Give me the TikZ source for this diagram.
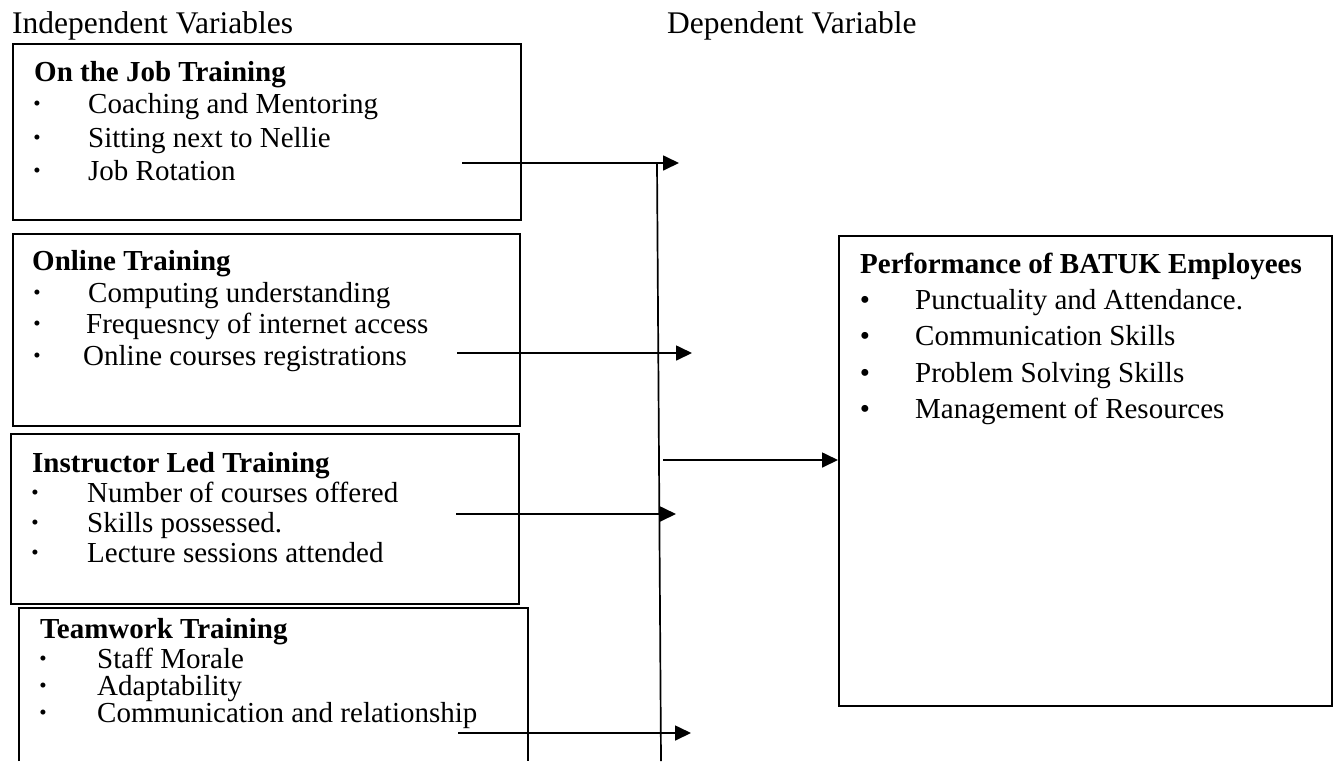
\documentclass[tikz,border=0pt]{standalone}
\usepackage{fontspec}
\setmainfont{Liberation Serif}
\usetikzlibrary{arrows.meta}
\begin{document}
\begin{tikzpicture}[x=1pt,y=-1pt,
  txt/.style={anchor=base west,inner sep=0pt,font=\fontsize{29}{34}\selectfont},
  hdr/.style={anchor=base west,inner sep=0pt,font=\fontsize{31.5}{36}\selectfont},
  ttl/.style={anchor=base west,inner sep=0pt,font=\fontsize{29}{34}\selectfont\bfseries},
  sbul/.style={anchor=base,inner sep=0pt,font=\fontsize{21}{24}\selectfont},
  lbul/.style={anchor=base,inner sep=0pt,font=\fontsize{29}{34}\selectfont},
  frame/.style={draw,line width=1.7pt,anchor=north west,inner sep=0pt},
  conn/.style={line width=1.7pt},
  arr/.style={conn,-{Triangle[length=16pt,width=15pt]}}]
\useasboundingbox (0,0) rectangle (1335,761);

% headers
\node[hdr] (hind) at (12,33) {Independent Variables};
\node[hdr] (hdep) at (667,33) {Dependent Variable};

% box 1
\node[frame,minimum width=508pt,minimum height=176pt] (b1) at (12,43) {};
\node[ttl] (b1t) at (34,81) {On the Job Training};
\node[sbul] (b1b1) at (37,110) {•};
\node[sbul] (b1b2) at (37,144) {•};
\node[sbul] (b1b3) at (37,177) {•};
\node[txt] (b1i1) at (88,113) {Coaching and Mentoring};
\node[txt] (b1i2) at (88,147) {Sitting next to Nellie};
\node[txt] (b1i3) at (88,180) {Job Rotation};

% box 2
\node[frame,minimum width=507pt,minimum height=192pt] (b2) at (12,233) {};
\node[ttl] (b2t) at (32,270) {Online Training};
\node[sbul] (b2b1) at (37,299) {•};
\node[sbul] (b2b2) at (37,330) {•};
\node[sbul] (b2b3) at (37,362) {•};
\node[txt] (b2i1) at (88,302) {Computing understanding};
\node[txt] (b2i2) at (86,333) {Frequesncy of internet access};
\node[txt] (b2i3) at (83,365) {Online courses registrations};

% box 3
\node[frame,minimum width=508pt,minimum height=170pt] (b3) at (10,433) {};
\node[ttl] (b3t) at (32,472) {Instructor Led Training};
\node[sbul] (b3b1) at (35,499) {•};
\node[sbul] (b3b2) at (35,529) {•};
\node[sbul] (b3b3) at (35,559) {•};
\node[txt] (b3i1) at (87,502) {Number of courses offered};
\node[txt] (b3i2) at (87,532) {Skills possessed.};
\node[txt] (b3i3) at (87,562) {Lecture sessions attended};

% box 4 (open at the bottom)
\coordinate (b4bl) at (19,761);
\coordinate (b4tr) at (528,608);
\coordinate (b4br) at (528,761);
\draw[conn] (b4bl) |- (b4tr) -- (b4br);
\node[ttl] (b4t) at (40,638) {Teamwork Training};
\node[sbul] (b4b1) at (43,665) {•};
\node[sbul] (b4b2) at (43,692) {•};
\node[sbul] (b4b3) at (43,719) {•};
\node[txt] (b4i1) at (97,668) {Staff Morale};
\node[txt] (b4i2) at (97,695) {Adaptability};
\node[txt] (b4i3) at (97,722) {Communication and relationship};

% right box
\node[frame,minimum width=493pt,minimum height=470pt] (rb) at (838,235) {};
\node[ttl] (rbt) at (860,273) {Performance of BATUK Employees};
\node[lbul] (rbb1) at (865,309) {•};
\node[lbul] (rbb2) at (865,345) {•};
\node[lbul] (rbb3) at (865,382) {•};
\node[lbul] (rbb4) at (865,418) {•};
\node[txt] (rbi1) at (915,309) {Punctuality and Attendance.};
\node[txt] (rbi2) at (915,345) {Communication Skills};
\node[txt] (rbi3) at (915,382) {Problem Solving Skills};
\node[txt] (rbi4) at (915,418) {Management of Resources};

% connectors
\coordinate (a1s) at (462,163); \coordinate (a1e) at (679,163);
\coordinate (a2s) at (457,353); \coordinate (a2e) at (692,353);
\coordinate (a3s) at (456,514); \coordinate (a3e) at (676,514);
\coordinate (a4s) at (458,733); \coordinate (a4e) at (691,733);
\coordinate (vt) at (657,163); \coordinate (vb) at (661,761);
\coordinate (a5s) at (663,460);
\draw[arr] (a1s) -- (a1e);
\draw[arr] (a2s) -- (a2e);
\draw[arr] (a3s) -- (a3e);
\draw[arr] (a4s) -- (a4e);
\draw[conn] (vt) -- (vb);
\draw[arr] (a5s) -- (a5s -| rb.west);
\end{tikzpicture}
\end{document}
